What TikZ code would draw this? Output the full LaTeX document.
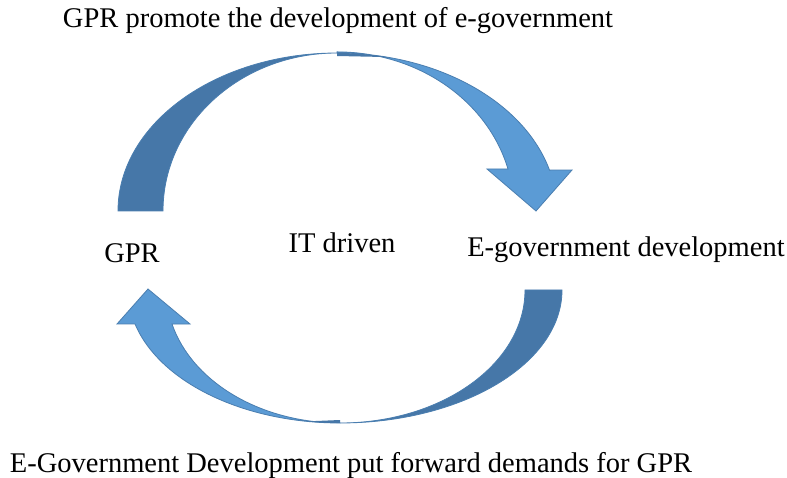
\documentclass[tikz,border=0pt]{standalone}
\usepackage{fontspec}
\setmainfont{Liberation Serif}
\definecolor{darkband}{HTML}{4677A8}
\definecolor{lightband}{HTML}{5B9BD5}
\definecolor{edgeblue}{HTML}{4A7EB0}
\begin{document}
\begin{tikzpicture}[x=1pt,y=-1pt,
  lbl/.style={font=\fontsize{28.5}{30}\selectfont, inner sep=0pt},
  front/.style={fill=lightband, draw=edgeblue, line width=0.8pt, line join=miter},
  back/.style={fill=darkband, draw=edgeblue, line width=0.8pt}]
\useasboundingbox (0,0) rectangle (787,478);
\fill[white] (0,0) rectangle (787,478);
% labels
\node[lbl] (top) at (338,21) {GPR promote the development of e-government};
\node[lbl] (gpr) at (132,253) {GPR};
\node[lbl] (it) at (342,243) {IT driven};
\node[lbl] (egd) at (626,250) {E-government development};
\node[lbl] (bot) at (351,465) {E-Government Development put forward demands for GPR};
% top curved arrow
\coordinate (tapex) at (337,53);
\path[front] (tapex) arc[start angle=270, end angle=345, x radius=220, y radius=158]
  -- (572,170) -- (536,211) -- (487,169)
  -- (508,169) arc[start angle=345, end angle=270, x radius=177, y radius=158] -- cycle;
\path[back] (118,211) arc[start angle=180, end angle=270, x radius=219, y radius=158]
  arc[start angle=270, end angle=180, x radius=174, y radius=158] -- cycle;
\fill[darkband] (tapex) arc[start angle=270, end angle=283, x radius=220, y radius=158]
  -- (337,56) -- cycle;
% bottom curved arrow
\coordinate (bapex) at (340,423);
\path[front] (bapex) arc[start angle=90, end angle=165.2, x radius=212, y radius=133]
  -- (117,324) -- (148,289) -- (190,324)
  -- (172,324) arc[start angle=165.2, end angle=90, x radius=174, y radius=133] -- cycle;
\path[back] (562,290) arc[start angle=0, end angle=90, x radius=222, y radius=133]
  arc[start angle=90, end angle=0, x radius=185, y radius=133] -- cycle;
\fill[darkband] (bapex) arc[start angle=90, end angle=99, x radius=212, y radius=133]
  -- (340,420) -- cycle;
\end{tikzpicture}
\end{document}
